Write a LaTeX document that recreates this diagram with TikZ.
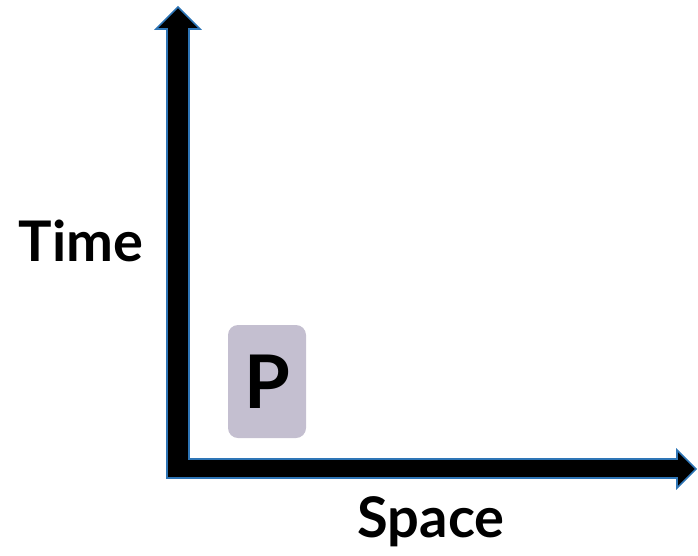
\documentclass[tikz,border=0pt]{standalone}
\usepackage{fontspec}
\setmainfont{Lato}
\usetikzlibrary{positioning}
\definecolor{axisblue}{HTML}{2E75B6}
\definecolor{boxlilac}{HTML}{C4BFD0}
\tikzset{
  axisarrow/.style={draw=axisblue, line width=1.6pt, fill=black, line join=miter},
  axislabel/.style={font=\bfseries\fontsize{56}{56}\selectfont, inner sep=0pt},
  pbox/.style={rectangle, rounded corners=10pt, fill=boxlilac, minimum width=78pt, minimum height=113pt, font=\bfseries\fontsize{74}{74}\selectfont}
}
\begin{document}
\begin{tikzpicture}[x=1pt,y=-1pt]
  \useasboundingbox (0,0) rectangle (698,555);
  % axes as one L-shaped block arrow
  \draw[axisarrow] (167,478) -- (167,29) -- (156,29) -- (178,7) -- (200,29) -- (189,29)
    -- (189,459) -- (677,459) -- (677,450) -- (696,469) -- (677,488) -- (677,478) -- cycle;
  \node[axislabel] (time) at (81,241) {Time};
  \node[axislabel] (space) at (431,522) {Space};
  \node[pbox] (p) at (267,381.5) {P};
\end{tikzpicture}
\end{document}
